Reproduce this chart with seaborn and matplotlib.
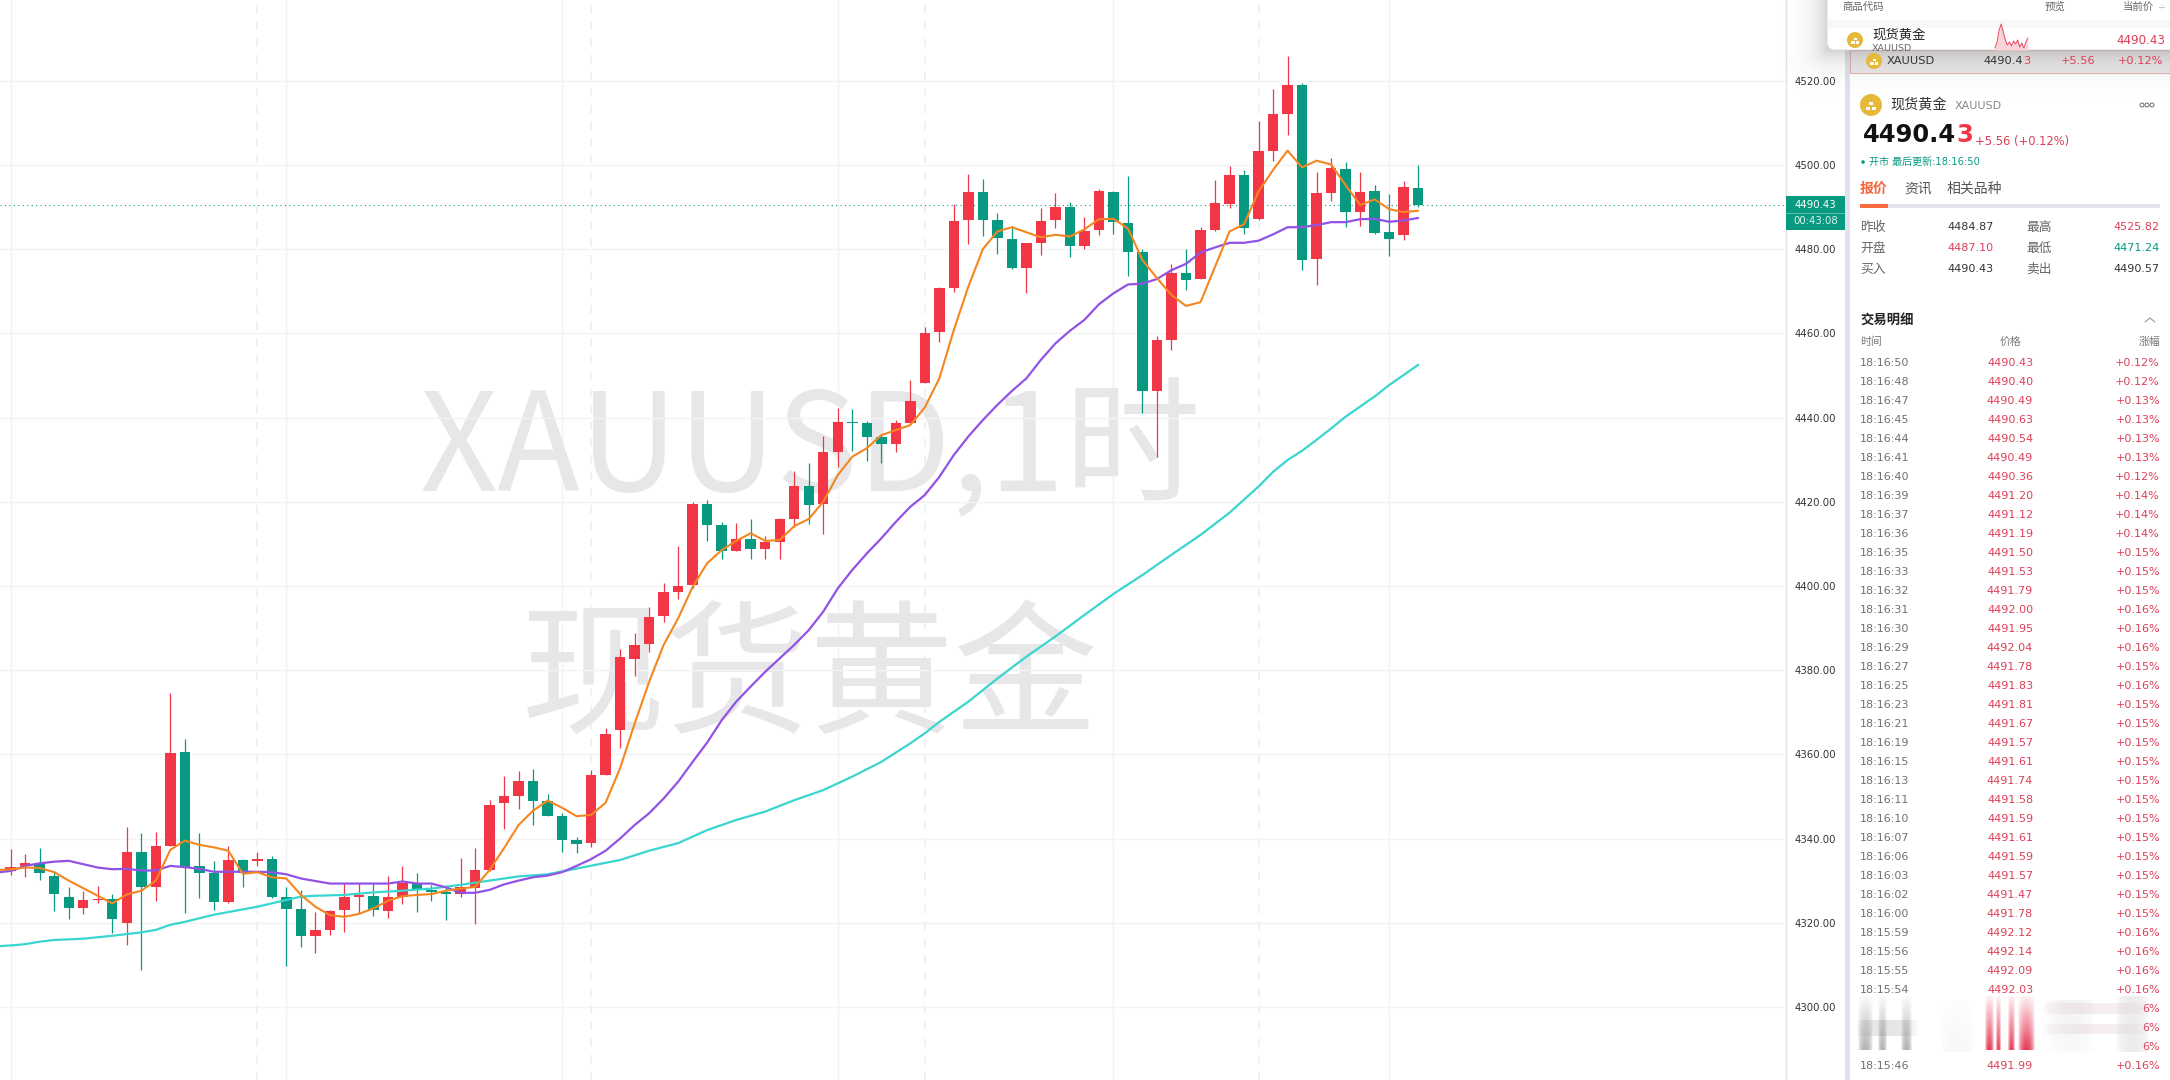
import numpy as np
import pandas as pd
import matplotlib
matplotlib.use("Agg")
import matplotlib.pyplot as plt
from matplotlib.patches import Circle, Rectangle, FancyBboxPatch
import seaborn as sns

# candles, one hour each, oldest first
opens = [4332.3, 4333.4, 4334.1, 4331.1, 4326.1, 4323.6, 4325.5, 4325.6, 4320.0, 4336.7,
         4328.5, 4338.2, 4360.5, 4333.5, 4331.9, 4325.0, 4334.9, 4334.7, 4335.1, 4326.1,
         4323.3, 4316.9, 4318.3, 4323.0, 4326.2, 4326.3, 4322.9, 4326.1, 4329.3, 4327.8,
         4327.3, 4326.9, 4328.3, 4332.5, 4348.5, 4350.2, 4353.7, 4348.8, 4345.3, 4339.6,
         4339.0, 4355.1, 4365.8, 4382.6, 4386.1, 4392.8, 4398.5, 4400.3, 4419.4, 4414.5,
         4408.4, 4411.1, 4408.7, 4410.5, 4416.0, 4423.7, 4419.4, 4431.9, 4438.9, 4438.7,
         4435.4, 4433.8, 4438.7, 4448.3, 4460.2, 4470.8, 4486.8, 4493.6, 4486.9, 4482.4,
         4475.4, 4481.5, 4486.8, 4489.9, 4480.7, 4484.6, 4493.6, 4486.2, 4479.3, 4446.4,
         4458.4, 4474.3, 4473.0, 4484.5, 4490.7, 4497.6, 4487.2, 4503.3, 4512.1, 4519.0,
         4477.7, 4493.4, 4499.0, 4488.7, 4493.8, 4484.0, 4483.4, 4494.5]
closes = [4333.2, 4334.1, 4331.9, 4326.8, 4323.6, 4325.4, 4325.7, 4321.0, 4336.7, 4328.5,
          4338.2, 4360.3, 4333.3, 4331.9, 4325.0, 4334.9, 4331.9, 4335.1, 4326.1, 4323.3,
          4316.9, 4318.3, 4322.8, 4326.1, 4326.5, 4323.0, 4326.1, 4329.5, 4327.9, 4327.4,
          4326.9, 4328.4, 4332.5, 4348.0, 4350.1, 4353.7, 4348.8, 4345.4, 4339.6, 4338.7,
          4355.1, 4364.8, 4383.1, 4386.0, 4392.6, 4398.5, 4400.0, 4419.4, 4414.5, 4408.4,
          4411.1, 4408.7, 4410.4, 4415.9, 4423.7, 4419.2, 4431.8, 4438.9, 4438.7, 4435.4,
          4433.7, 4438.7, 4443.9, 4460.0, 4470.8, 4486.7, 4493.6, 4487.0, 4482.7, 4475.6,
          4481.4, 4486.7, 4489.9, 4480.7, 4484.2, 4493.8, 4486.5, 4479.2, 4446.4, 4458.4,
          4474.3, 4472.7, 4484.5, 4491.0, 4497.6, 4485.1, 4503.3, 4512.2, 4519.0, 4477.3,
          4493.3, 4499.3, 4488.7, 4493.6, 4483.9, 4482.5, 4494.7, 4490.43]
highs = [4337.4, 4336.3, 4337.7, 4332.4, 4328.6, 4327.6, 4328.7, 4326.8, 4342.7, 4341.4,
         4341.5, 4374.6, 4363.7, 4341.4, 4334.7, 4338.2, 4335.1, 4336.8, 4335.9, 4328.6,
         4327.8, 4322.5, 4323.0, 4329.4, 4329.4, 4329.5, 4331.1, 4333.5, 4331.7, 4328.9,
         4328.4, 4335.3, 4337.7, 4349.2, 4354.8, 4356.0, 4356.4, 4350.5, 4346.1, 4340.3,
         4356.3, 4366.2, 4384.9, 4388.7, 4394.9, 4400.8, 4409.5, 4419.9, 4420.4, 4415.1,
         4415.0, 4415.9, 4411.8, 4416.2, 4427.4, 4429.1, 4435.6, 4442.2, 4442.0, 4439.1,
         4435.8, 4439.4, 4448.9, 4461.6, 4470.9, 4490.7, 4497.8, 4496.6, 4488.5, 4485.5,
         4481.5, 4489.7, 4493.4, 4491.2, 4487.6, 4494.2, 4493.7, 4497.4, 4480.0, 4459.4,
         4476.5, 4480.0, 4485.2, 4496.4, 4499.7, 4498.8, 4510.4, 4518.0, 4525.9, 4519.4,
         4498.2, 4501.6, 4500.6, 4498.3, 4495.2, 4493.1, 4496.2, 4500.0]
lows = [4331.3, 4330.8, 4330.1, 4322.8, 4320.9, 4322.1, 4324.6, 4317.5, 4314.7, 4308.8,
        4325.2, 4338.2, 4322.2, 4325.8, 4323.0, 4324.8, 4328.6, 4333.5, 4325.9, 4309.6,
        4314.3, 4312.7, 4317.0, 4317.7, 4322.2, 4321.7, 4321.1, 4324.4, 4322.6, 4325.2,
        4320.6, 4326.0, 4319.7, 4332.3, 4342.3, 4347.0, 4343.2, 4345.3, 4336.9, 4336.6,
        4338.1, 4355.1, 4361.4, 4378.6, 4384.4, 4391.5, 4396.9, 4399.4, 4410.7, 4406.5,
        4408.3, 4406.3, 4406.3, 4406.4, 4414.1, 4414.7, 4412.3, 4428.3, 4432.1, 4429.7,
        4429.1, 4431.8, 4438.6, 4448.2, 4458.0, 4469.9, 4481.2, 4483.1, 4478.8, 4475.2,
        4469.5, 4478.6, 4484.9, 4478.2, 4480.0, 4483.4, 4483.6, 4473.5, 4441.0, 4430.7,
        4456.0, 4470.3, 4473.0, 4484.4, 4489.7, 4483.6, 4486.8, 4501.0, 4507.1, 4475.0,
        4471.5, 4491.5, 4485.3, 4485.5, 4483.7, 4478.4, 4482.2, 4490.1]

# moving averages, read at each candle; they start one candle left of the frame
ma_x = list(range(-1, 98))
ma_orange = [4332.5, 4332.7, 4333.1, 4333.0, 4332.0, 4330.0, 4328.2, 4326.4, 4324.6, 4326.7,
             4327.6, 4330.0, 4337.3, 4339.5, 4338.5, 4337.9, 4337.1, 4331.6, 4332.0, 4330.8,
             4330.5, 4326.6, 4323.8, 4321.8, 4321.4, 4322.1, 4323.4, 4325.2, 4326.3, 4326.6,
             4326.8, 4327.6, 4328.1, 4328.5, 4332.5, 4337.7, 4343.2, 4346.6, 4349.0, 4347.3,
             4345.3, 4345.6, 4348.5, 4356.7, 4367.3, 4377.2, 4386.0, 4392.3, 4399.8, 4405.4,
             4408.5, 4410.7, 4412.5, 4410.7, 4410.9, 4414.2, 4415.9, 4420.0, 4426.3, 4430.7,
             4432.7, 4435.8, 4437.0, 4438.2, 4442.4, 4449.3, 4460.8, 4471.1, 4480.0, 4484.2,
             4485.2, 4484.0, 4482.8, 4483.4, 4483.0, 4484.7, 4487.1, 4487.2, 4484.9, 4477.4,
             4473.1, 4469.1, 4466.5, 4467.4, 4475.8, 4484.2, 4485.9, 4493.7, 4498.8, 4503.4,
             4499.4, 4501.0, 4500.1, 4495.2, 4490.5, 4491.8, 4489.5, 4488.8, 4489.1]
ma_purple = [4331.9, 4332.3, 4333.5, 4334.1, 4334.5, 4334.7, 4333.9, 4333.1, 4332.7, 4332.8,
             4332.4, 4332.4, 4333.5, 4333.2, 4332.8, 4332.1, 4332.1, 4332.1, 4332.1, 4332.0,
             4331.5, 4330.5, 4329.9, 4329.3, 4329.3, 4329.3, 4329.3, 4329.3, 4329.8, 4329.3,
             4329.3, 4328.4, 4327.1, 4327.1, 4327.8, 4329.1, 4330.0, 4330.8, 4331.2, 4332.0,
             4333.5, 4335.1, 4337.1, 4340.0, 4343.2, 4346.0, 4349.5, 4353.5, 4358.2, 4362.8,
             4368.1, 4372.5, 4376.1, 4379.6, 4382.8, 4386.0, 4389.5, 4393.9, 4399.4, 4403.8,
             4407.7, 4411.3, 4415.2, 4418.8, 4421.6, 4425.9, 4431.1, 4435.5, 4439.4, 4443.0,
             4446.3, 4449.3, 4453.7, 4457.6, 4460.6, 4463.2, 4466.9, 4469.5, 4471.6, 4471.8,
             4472.9, 4475.0, 4476.5, 4479.2, 4480.4, 4481.5, 4481.5, 4482.0, 4483.5, 4485.2,
             4485.2, 4485.7, 4486.4, 4486.4, 4487.1, 4487.2, 4486.5, 4486.8, 4487.4]
cyan_x = [-1, 0, 1, 2, 3, 5, 7, 9, 10, 11, 12, 14, 17, 19, 20, 21, 23, 25, 27, 29, 31, 33, 35, 37,
          42, 44, 46, 48, 50, 52, 54, 56, 58, 60, 62, 63, 64, 66, 68, 70, 72, 74, 76, 78, 80,
          82, 84, 86, 87, 88, 89, 90, 91, 92, 93, 94, 95, 96, 97]
ma_cyan = [4314.4, 4314.6, 4314.9, 4315.5, 4315.9, 4316.2, 4316.9, 4317.7, 4318.3, 4319.5, 4320.2,
           4321.9, 4323.8, 4325.4, 4326.2, 4326.4, 4326.6, 4327.2, 4327.6, 4328.1, 4329.0, 4330.0,
           4331.0, 4331.5, 4334.9, 4337.1, 4338.9, 4342.0, 4344.4, 4346.4, 4349.1, 4351.5, 4354.7,
           4358.2, 4362.6, 4365.0, 4367.7, 4372.5, 4378.0, 4383.2, 4388.0, 4393.1, 4398.1, 4402.6,
           4407.4, 4412.1, 4417.4, 4423.6, 4427.1, 4429.9, 4432.1, 4434.7, 4437.4, 4440.2, 4442.6,
           4445.0, 4447.7, 4450.1, 4452.5]
assert len(opens) == len(closes) == len(highs) == len(lows) == 98
assert len(ma_orange) == len(ma_purple) == len(ma_x)
assert len(cyan_x) == len(ma_cyan)

last_price = 4490.43
price_ticks = list(range(4300, 4521, 20))
solid_times = [0, 19, 38, 57, 76, 95]
dashed_times = [17, 40, 63, 86]

# right hand panel
quote_rows = [("昨收", "4484.87", "最高", "4525.82"),
              ("开盘", "4487.10", "最低", "4471.24"),
              ("买入", "4490.43", "卖出", "4490.57")]
trade_times = ["18:16:50", "18:16:48", "18:16:47", "18:16:45", "18:16:44", "18:16:41", "18:16:40",
               "18:16:39", "18:16:37", "18:16:36", "18:16:35", "18:16:33", "18:16:32", "18:16:31",
               "18:16:30", "18:16:29", "18:16:27", "18:16:25", "18:16:23", "18:16:21", "18:16:19",
               "18:16:15", "18:16:13", "18:16:11", "18:16:10", "18:16:07", "18:16:06", "18:16:03",
               "18:16:02", "18:16:00", "18:15:59", "18:15:56", "18:15:55", "18:15:54"]
trade_prices = ["4490.43", "4490.40", "4490.49", "4490.63", "4490.54", "4490.49", "4490.36",
                "4491.20", "4491.12", "4491.19", "4491.50", "4491.53", "4491.79", "4492.00",
                "4491.95", "4492.04", "4491.78", "4491.83", "4491.81", "4491.67", "4491.57",
                "4491.61", "4491.74", "4491.58", "4491.59", "4491.61", "4491.59", "4491.57",
                "4491.47", "4491.78", "4492.12", "4492.14", "4492.09", "4492.03"]
trade_pcts = ["+0.12%", "+0.12%", "+0.13%", "+0.13%", "+0.13%", "+0.13%", "+0.12%", "+0.14%",
              "+0.14%", "+0.14%", "+0.15%", "+0.15%", "+0.15%", "+0.16%", "+0.16%", "+0.16%",
              "+0.15%", "+0.16%", "+0.15%", "+0.15%", "+0.15%", "+0.15%", "+0.15%", "+0.15%",
              "+0.15%", "+0.15%", "+0.15%", "+0.15%", "+0.15%", "+0.15%", "+0.16%", "+0.16%",
              "+0.16%", "+0.16%"]
spark_heights = [2, 8, 20, 26, 18, 10, 5, 8, 4, 9, 6, 10, 3, 7, 2, 8, 12]

RED = "#F23645"
GREEN = "#089981"
TXT_RED = "#DD3F58"
GRID = "#F3F3F4"

sns.set_theme(style="white")
plt.rcParams["font.family"] = ["DejaVu Sans", "Noto Sans CJK SC"]

candles = pd.DataFrame({"open": opens, "high": highs, "low": lows, "close": closes})
candles["x"] = candles.index
candles["top"] = candles[["open", "close"]].max(axis=1)
candles["bottom"] = candles[["open", "close"]].min(axis=1)
candles["color"] = np.where(candles["close"] > candles["open"], RED, GREEN)

W, H = 2170, 1080
fig = plt.figure(figsize=(W / 100, H / 100), dpi=100, facecolor="white")
ax = fig.add_axes([0, 0, 1786 / W, 1])

# watermark first so everything sits on top of it
ax.text(0.235, 0.581, "XAUUSD,1时", transform=ax.transAxes, fontsize=98, color="#E7E7E9",
        family=["Noto Sans CJK SC"], ha="left", va="center", zorder=0.5)
ax.text(0.2915, 0.37, "现货黄金", transform=ax.transAxes, fontsize=104, color="#E7E7E9",
        family=["Noto Sans CJK SC"], ha="left", va="center", zorder=0.5)

ax.set_yticks(price_ticks)
ax.grid(axis="y", color=GRID, lw=1)
for t in solid_times:
    ax.axvline(t, color=GRID, lw=1, zorder=0.4)
for t in dashed_times:
    ax.axvline(t, color="#EFEFF1", lw=1.2, ls=(0, (5, 5)), zorder=0.4)
ax.axhline(last_price, color=GREEN, lw=0.8, ls=(0, (1, 3)), zorder=1)

ax.vlines(candles["x"], candles["low"], candles["high"], colors=candles["color"], lw=0.9, zorder=2)
ax.bar(candles["x"], candles["top"] - candles["bottom"], bottom=candles["bottom"], width=0.72,
       color=candles["color"], linewidth=0, zorder=3)

sns.lineplot(x=cyan_x, y=ma_cyan, ax=ax, color="#39D5D0", lw=1.6, estimator=None, zorder=4)
sns.lineplot(x=ma_x, y=ma_purple, ax=ax, color="#9152E6", lw=1.6, estimator=None, zorder=5)
sns.lineplot(x=ma_x, y=ma_orange, ax=ax, color="#F5861F", lw=1.5, estimator=None, zorder=6)

ax.set_xlim(-0.737, 122.35)
ax.set_ylim(4282.64, 4539.17)
ax.set_xticks([])
ax.set_xlabel("")
ax.yaxis.tick_right()
ax.set_yticklabels([f"{p:.2f}" for p in price_ticks], fontsize=7.3, color="#333333")
ax.tick_params(axis="y", length=0, pad=6.5)
for side in ["top", "left", "bottom"]:
    ax.spines[side].set_visible(False)
ax.spines["right"].set_color("#E3E3E6")
ax.spines["right"].set_linewidth(1)

# overlay in pixel coords for the panel
px = fig.add_axes([0, 0, 1, 1], facecolor="none")
px.set_xlim(0, W)
px.set_ylim(H, 0)
px.axis("off")


def soft(x0, x1, y0, y1, color, a0, a1, side_fade=False, z=10):
    # patch that fades from alpha a0 at the top to a1 at the bottom, blurred sides if asked
    n = 32
    img = np.zeros((n, n, 4))
    img[..., :3] = matplotlib.colors.to_rgb(color)
    alpha = np.linspace(a0, a1, n)[:, None] * np.ones((1, n))
    if side_fade:
        alpha = alpha * np.sin(np.linspace(0, np.pi, n))[None, :] ** 0.6
    img[..., 3] = alpha
    px.imshow(img, extent=[x0, x1, y1, y0], aspect="auto", interpolation="bilinear", zorder=z)


def box(x0, y0, x1, y1, color, z=11, **kw):
    px.add_patch(Rectangle((x0, y0), x1 - x0, y1 - y0, facecolor=color, edgecolor="none", zorder=z, **kw))


def label(x, y, s, size=8, color="#333333", ha="left", z=14, **kw):
    px.text(x, y, s, fontsize=size, color=color, ha=ha, va="center", zorder=z, **kw)


def gold_icon(x, y, r, z=14):
    px.add_patch(Circle((x, y), r, facecolor="#E6B93A", edgecolor="none", zorder=z))
    u = r / 8
    for dx, dy in [(-3.6, 1.2), (0.6, 1.2), (-1.5, -2.4)]:
        px.add_patch(Rectangle((x + dx * u, y + dy * u), 3.2 * u, 2.4 * u, facecolor="white",
                               edgecolor="none", zorder=z + 0.1))


# panel background
box(1845, 0, 1850, H, "#E0E3EB")
box(1850, 0, W, H, "white")

# current price tag
box(1786, 196, 1845, 230, GREEN, z=12)
box(1786, 213, 1845, 213.7, "#5CBFAE", z=12.5)
label(1815.5, 204.5, f"{last_price:.2f}", size=7.3, color="white", ha="center")
label(1815.5, 221.5, "00:43:08", size=7.3, color="#DDF3EE", ha="center")

# selected row and the shadow of the popup above it
box(1850, 50, W, 73, "#ECE9E9", z=11)
px.add_patch(Rectangle((1850, 50), W - 1850, 23, facecolor="none", edgecolor="#E2B5B5", lw=0.8, zorder=11.5))
sx, sy = np.meshgrid(np.linspace(1780, W, 200), np.linspace(0, 100, 60))
dist = np.hypot(np.clip(1827 - sx, 0, None), np.clip(sy - 50, 0, None))
shadow = np.zeros(sx.shape + (4,))
shadow[..., 3] = 0.17 * np.exp(-dist / 14)
px.imshow(shadow, extent=[1780, W, 100, 0], aspect="auto", interpolation="bilinear", zorder=11.7)

gold_icon(1874, 61, 8)
label(1887, 61, "XAUUSD", size=8.2, color="#333333")
label(2023, 61, "4490.4", size=8.2, color="#333333", ha="right")
label(2023, 61, "3", size=8.2, color=TXT_RED)
label(2095, 61, "+5.56", size=8.2, color=TXT_RED, ha="right")
label(2163, 61, "+0.12%", size=8.2, color=TXT_RED, ha="right")

# popup
px.add_patch(FancyBboxPatch((1827, -30), 400, 80, boxstyle="round,pad=0,rounding_size=8", mutation_scale=1,
                            facecolor="white", edgecolor="#D5D5D5", lw=0.6, zorder=12))
box(1828, 20, W, 28, "#F7F7F7", z=12.2)
label(1842, 7, "商品代码", size=7.5, color="#666666", z=13)
label(2055, 7, "预览", size=7.5, color="#666666", ha="center", z=13)
label(2123, 7, "当前价", size=7.5, color="#666666", z=13)
label(2162, 7, "÷", size=7, color="#BBBBBB", z=13, ha="center")
label(1872, 35, "现货黄金", size=9.6, color="#222222", z=13)
label(1872, 48.5, "XAUUSD", size=6.8, color="#666666", z=13, clip_on=True,
      clip_path=Rectangle((0, 0), W, 50, transform=px.transData))
gold_icon(1855, 40, 8, z=13)
spark_x = np.linspace(1995, 2028, len(spark_heights))
spark_y = 50 - np.array(spark_heights)
px.fill_between(spark_x, spark_y, 50, color="#F9D5DA", lw=0, zorder=13)
px.plot(spark_x, spark_y, color="#E5475F", lw=0.7, zorder=13.2)
label(2165, 41, "4490.43", size=8.6, color=TXT_RED, ha="right", z=13)

# name and big price
gold_icon(1871, 105, 11)
label(1890, 105, "现货黄金", size=10.2, color="#333333")
label(1955, 106, "XAUUSD", size=8, color="#888888")
for dx in [-5, 0, 5]:
    px.add_patch(Circle((2147 + dx, 105), 2, facecolor="white", edgecolor="#555555", lw=0.6, zorder=14))
label(1956, 135, "4490.4", size=17.5, color="#111111", ha="right", fontweight="bold")
label(1956, 135, "3", size=17.5, color=RED, fontweight="bold")
label(1975, 141, "+5.56 (+0.12%)", size=8.3, color=TXT_RED)
px.add_patch(Circle((1863, 162), 1.8, facecolor=GREEN, edgecolor="none", zorder=14))
label(1869, 162, "开市 最后更新:18:16:50", size=7.2, color=GREEN)

# tabs
label(1860, 189, "报价", size=10, color="#F4653C", fontweight="bold")
label(1904, 189, "资讯", size=10, color="#555555")
label(1947, 189, "相关品种", size=10, color="#555555")
box(1860, 204, 2160, 207.5, "#E0E3EB")
box(1860, 204, 1888, 207.5, "#F96A3E", z=12)

# quote table
for i, (a, b, c, d) in enumerate(quote_rows):
    y = 227 + 21 * i
    label(1860, y, a, size=9.2, color="#666666")
    label(2026, y, c, size=9.2, color="#666666")
    label(1994, y, b, color=TXT_RED if b == "4487.10" else "#333333", ha="right")
    label(2160, y, d, color=TXT_RED if i == 0 else (GREEN if i == 1 else "#333333"), ha="right")

# trades
label(1860, 320, "交易明细", size=9.6, color="#222222", fontweight="bold")
px.plot([2145, 2150, 2155], [322, 318, 322], color="#999999", lw=0.8, zorder=14)
label(1860, 342, "时间", size=7.8, color="#777777")
label(2010, 342, "价格", size=7.8, color="#777777", ha="center")
label(2160, 342, "涨幅", size=7.8, color="#777777", ha="right")
for i, (t, p, c) in enumerate(zip(trade_times, trade_prices, trade_pcts)):
    y = 363.3 + 19 * i
    label(1860, y, t, color="#707070")
    label(2010, y, p, color=TXT_RED, ha="center")
    label(2160, y, c, color=TXT_RED, ha="right")
label(1860, 1066, "18:15:46", color="#707070")
label(2010, 1066, "4491.99", color=TXT_RED, ha="center")
label(2160, 1066, "+0.16%", color=TXT_RED, ha="right")

# blurred watermark over the last rows
for y in [1009.3, 1028.3, 1047.3]:
    label(2160, y, "6%", color=TXT_RED, ha="right")
for x0, x1 in [(1858, 1873), (1878, 1887), (1901, 1912)]:
    soft(x0, x1, 996, 1050, "#666666", 0.04, 0.5, side_fade=True, z=15)
for x0, x1 in [(1985, 1994), (1996, 2001), (2008, 2015), (2018, 2035)]:
    soft(x0, x1, 996, 1050, "#E5304E", 0.08, 0.95, side_fade=True, z=15)
soft(1855, 1920, 1020, 1036, "#888888", 0.22, 0.22, side_fade=True, z=14.8)
soft(2040, 2150, 1003, 1014, "#D8B8BC", 0.25, 0.25, side_fade=True, z=15)
soft(2040, 2150, 1024, 1034, "#D8B8BC", 0.25, 0.25, side_fade=True, z=15)
soft(2115, 2150, 996, 1052, "#AAAAAA", 0.22, 0.22, side_fade=True, z=14.8)
soft(1940, 1975, 1000, 1052, "#BBBBBB", 0.02, 0.12, side_fade=True, z=14.8)
soft(2045, 2095, 1000, 1052, "#AAAAAA", 0.16, 0.06, side_fade=True, z=14.8)
px.set_xlim(0, W)
px.set_ylim(H, 0)

fig.savefig("out.png", dpi=100)
